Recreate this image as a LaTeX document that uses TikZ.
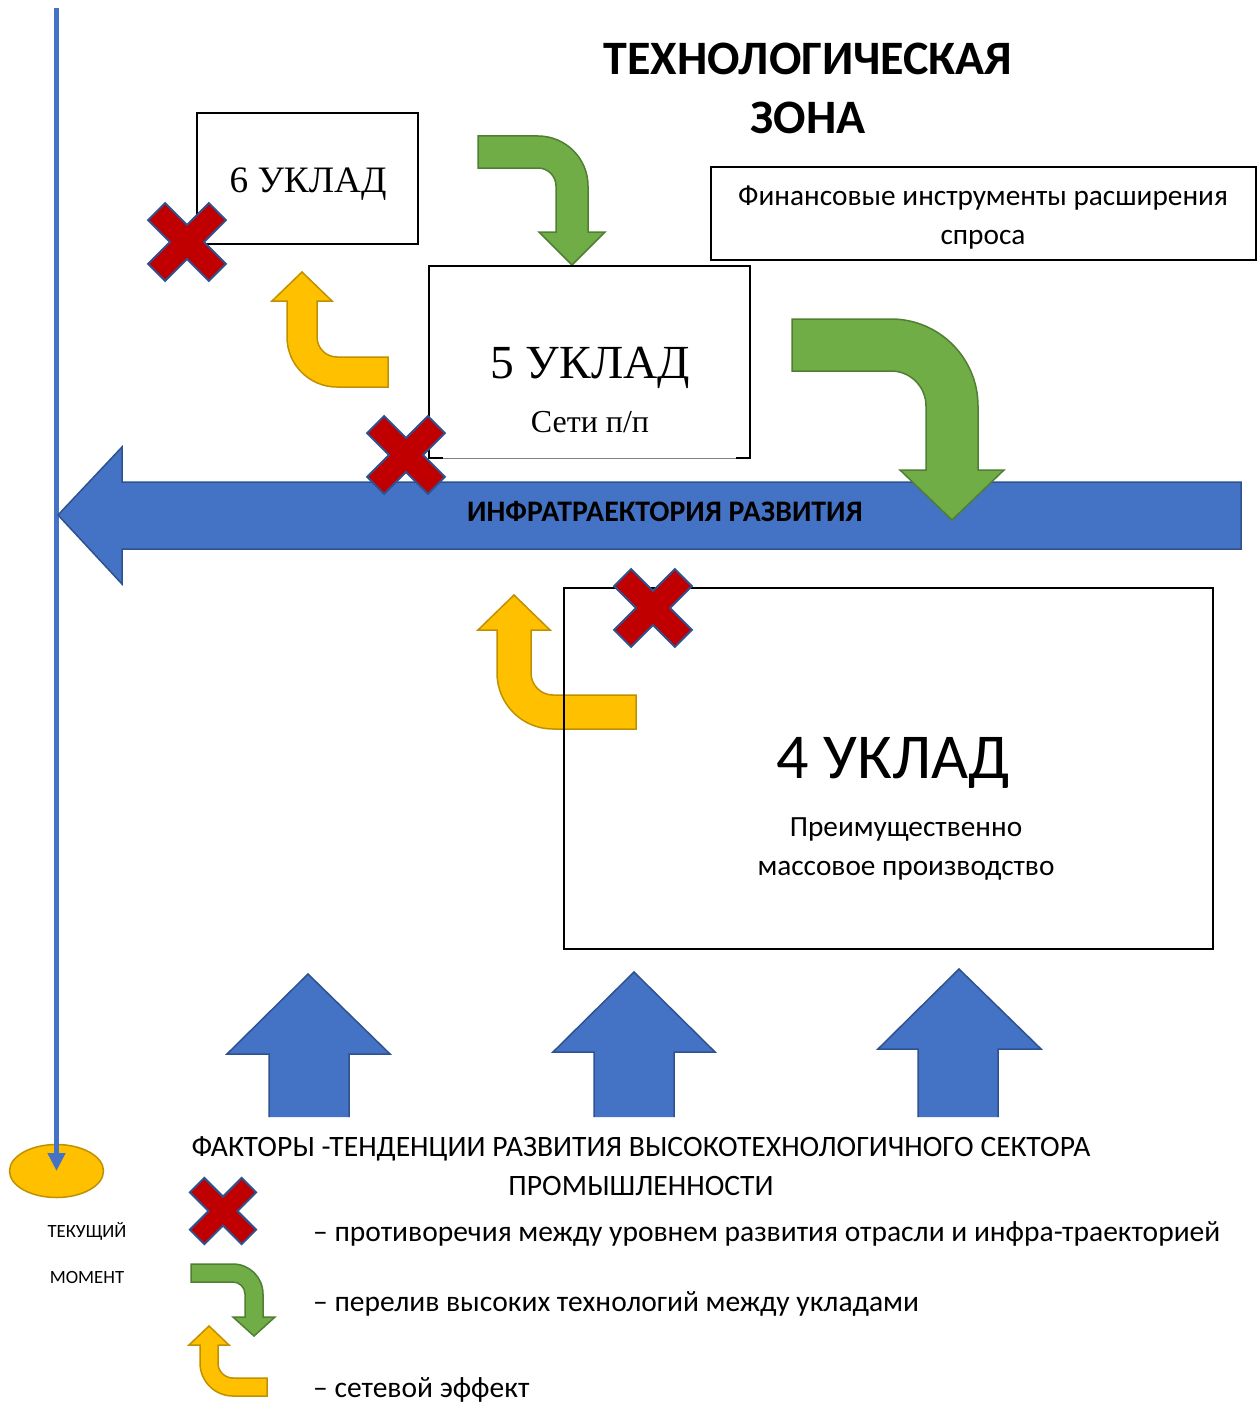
\documentclass[tikz,border=0pt]{standalone}
\usepackage{fontspec}
\setmainfont{Carlito}
\newfontfamily\ukladfont{Liberation Serif}
\usetikzlibrary{arrows.meta,shapes.geometric}

\definecolor{crossred}{HTML}{C00000}
\definecolor{crossedge}{HTML}{2F528F}
\definecolor{flowgreen}{HTML}{70AD47}
\definecolor{flowgreenedge}{HTML}{507E32}
\definecolor{netyellow}{HTML}{FFC000}
\definecolor{netyellowedge}{HTML}{BF9000}
\definecolor{infrablue}{HTML}{4472C4}
\definecolor{infrablueedge}{HTML}{2F528F}

\begin{document}
\begin{tikzpicture}[x=1pt, y=-1pt,
    crossmark/.style={fill=crossred, draw=crossedge, line width=2pt},
    spillover/.style={fill=flowgreen, draw=flowgreenedge, line width=1.5pt},
    network/.style={fill=netyellow, draw=netyellowedge, line width=1.5pt},
    infra/.style={fill=infrablue, draw=infrablueedge, line width=1.5pt},
    ukladbox/.style={draw, line width=2.2pt, inner sep=0pt},
    plain/.style={inner sep=0pt, anchor=base},
  ]
  \fill[white] (0,0) rectangle (1258,1402);

  % title
  \node[plain, font=\bfseries\fontsize{48}{56}\selectfont] (title1) at (808,75) {ТЕХНОЛОГИЧЕСКАЯ};
  \node[plain, font=\bfseries\fontsize{48}{56}\selectfont] (title2) at (808,133) {ЗОНА};

  % financial box
  \node[draw, line width=1.2pt, minimum width=545pt, minimum height=93pt] (finance) at (983.5,213.5) {};
  \node[plain, font=\fontsize{29.3}{32}\selectfont] (fin1) at (983,205) {Финансовые инструменты расширения};
  \node[plain, font=\fontsize{29.3}{32}\selectfont] (fin2) at (983,244) {спроса};

  % 6th uklad
  \node[ukladbox, minimum width=221pt, minimum height=131pt] (uklad6) at (307.5,178.5) {};
  \node[plain, font=\ukladfont\fontsize{37.3}{40}\selectfont] (u6title) at (308,192) {6 УКЛАД};
  \draw[crossmark, shift={(187,242)}, rotate=45]
    (12,12) -- (43,12) -- (43,-12) -- (12,-12) -- (12,-43) -- (-12,-43) -- (-12,-12)
    -- (-43,-12) -- (-43,12) -- (-12,12) -- (-12,43) -- (12,43) -- cycle;

  % small green bend
  \draw[spillover] (478,136) -- (538,136) arc[start angle=-90, end angle=0, radius=50]
    -- (588,232) -- (605,232) -- (572,265) -- (539,232) -- (556,232) -- (556,186)
    arc[start angle=0, end angle=-90, radius=18] -- (478,168) -- cycle;
  % upper yellow bend
  \draw[network] (388,387) -- (337,387) arc[start angle=90, end angle=180, radius=50]
    -- (287,301) -- (272,301) -- (302,272) -- (332,301) -- (317,301) -- (317,337)
    arc[start angle=180, end angle=90, radius=20] -- (388,357) -- cycle;

  % 5th uklad
  \node[minimum width=321pt, minimum height=192pt] (uklad5) at (589.5,362) {};
  \draw[line width=2.2pt] ([xshift=14pt]uklad5.south west) -- (uklad5.south west) -- (uklad5.north west)
    -- (uklad5.north east) -- (uklad5.south east) -- ([xshift=-14pt]uklad5.south east);
  \draw[gray, line width=0.8pt] ([xshift=14pt]uklad5.south west) -- ([xshift=-14pt]uklad5.south east);
  \node[plain, font=\ukladfont\fontsize{47.5}{50}\selectfont] (u5title) at (590,378) {5 УКЛАД};
  \node[plain, font=\ukladfont\fontsize{32}{36}\selectfont] (u5sub) at (590,432) {Сети п/п};

  % time axis
  \node[ellipse, fill=netyellow, draw=netyellowedge, line width=1.5pt,
    minimum width=94pt, minimum height=53pt, inner sep=0pt] (now) at (56.5,1171) {};
  \coordinate (start) at (56.5,8);
  \draw[infrablue, line width=4.5pt, -{Triangle[length=18pt,width=17pt]}] (start) -- (now.center);

  % infra trajectory
  \draw[infra] (1241,482) -- (122,482) -- (122,447) -- (58,515) -- (122,584) -- (122,549) -- (1241,549) -- cycle;
  \node[plain, font=\bfseries\fontsize{29.8}{32}\selectfont] (infra) at (665,521) {ИНФРАТРАЕКТОРИЯ РАЗВИТИЯ};
  \draw[crossmark, shift={(406,455)}, rotate=45]
    (12,12) -- (43,12) -- (43,-12) -- (12,-12) -- (12,-43) -- (-12,-43) -- (-12,-12)
    -- (-43,-12) -- (-43,12) -- (-12,12) -- (-12,43) -- (12,43) -- cycle;

  % big green bend
  \draw[spillover] (792,319) -- (891,319) arc[start angle=-90, end angle=0, radius=87]
    -- (978,470) -- (1004,470) -- (952,520) -- (900,470) -- (926,470) -- (926,406)
    arc[start angle=0, end angle=-90, radius=35] -- (792,371) -- cycle;

  % lower yellow bend
  \draw[network] (636,729) -- (553,729) arc[start angle=90, end angle=180, radius=56]
    -- (497,630) -- (478,630) -- (514,595) -- (550,630) -- (531,630) -- (531,673)
    arc[start angle=180, end angle=90, radius=22] -- (636,695) -- cycle;

  % 4th uklad
  \node[ukladbox, minimum width=649pt, minimum height=361pt] (uklad4) at (888.5,768.5) {};
  \draw[crossmark, shift={(653,608)}, rotate=45]
    (12,12) -- (43,12) -- (43,-12) -- (12,-12) -- (12,-43) -- (-12,-43) -- (-12,-12)
    -- (-43,-12) -- (-43,12) -- (-12,12) -- (-12,43) -- (12,43) -- cycle;
  \node[plain, font=\fontsize{64}{68}\selectfont] (u4title) at (893,778) {4 УКЛАД};
  \node[plain, font=\fontsize{29.3}{32}\selectfont] (u4sub1) at (906,836) {Преимущественно};
  \node[plain, font=\fontsize{29.3}{32}\selectfont] (u4sub2) at (906,875) {массовое производство};

  % factor arrows
  \path[infra] (269,1117) -- (269,1054) -- (227,1054) -- (308,974) -- (390,1054) -- (349,1054) -- (349,1117);
  \path[infra] (594,1117) -- (594,1052) -- (553,1052) -- (634,972) -- (715,1052) -- (674,1052) -- (674,1117);
  \path[infra] (918,1117) -- (918,1049) -- (878,1049) -- (959,969) -- (1041,1049) -- (998,1049) -- (998,1117);
  \node[plain, font=\fontsize{29.6}{32}\selectfont] (factors1) at (641,1156) {ФАКТОРЫ -ТЕНДЕНЦИИ РАЗВИТИЯ ВЫСОКОТЕХНОЛОГИЧНОГО СЕКТОРА};
  \node[plain, font=\fontsize{29.6}{32}\selectfont] (factors2) at (641,1195) {ПРОМЫШЛЕННОСТИ};

  % current moment
  \node[plain, font=\fontsize{18.7}{20}\selectfont] (now1) at (87,1237) {ТЕКУЩИЙ};
  \node[plain, font=\fontsize{18.7}{20}\selectfont] (now2) at (87,1283) {МОМЕНТ};

  % legend
  \draw[crossmark, shift={(223,1211)}, rotate=45, scale=0.85]
    (12,12) -- (43,12) -- (43,-12) -- (12,-12) -- (12,-43) -- (-12,-43) -- (-12,-12)
    -- (-43,-12) -- (-43,12) -- (-12,12) -- (-12,43) -- (12,43) -- cycle;
  \draw[spillover] (191,1264) -- (233,1264) arc[start angle=-90, end angle=0, radius=30]
    -- (263,1317) -- (275,1317) -- (254,1336) -- (233,1317) -- (245,1317) -- (245,1294)
    arc[start angle=0, end angle=-90, radius=12] -- (191,1282) -- cycle;
  \draw[network] (267,1396) -- (233,1396) arc[start angle=90, end angle=180, radius=33]
    -- (200,1345) -- (189,1345) -- (209,1326) -- (229,1345) -- (218,1345) -- (218,1363)
    arc[start angle=180, end angle=90, radius=15] -- (267,1378) -- cycle;
  \node[plain, anchor=base west, font=\fontsize{29.5}{32}\selectfont] (leg1) at (313,1241) {– противоречия между уровнем развития отрасли и инфра-траекторией};
  \node[plain, anchor=base west, font=\fontsize{29.5}{32}\selectfont] (leg2) at (313,1311) {– перелив высоких технологий между укладами};
  \node[plain, anchor=base west, font=\fontsize{29.5}{32}\selectfont] (leg3) at (313,1397) {– сетевой эффект};
\end{tikzpicture}
\end{document}
